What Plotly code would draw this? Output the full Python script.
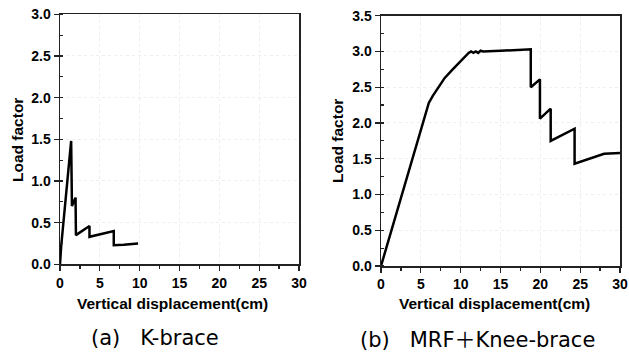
import plotly.graph_objects as go

# K-brace data
k_disp = [0, 0.15, 1.4, 1.5, 1.95, 2.0, 3.7, 3.7, 6.75, 6.75, 8.0, 9.8]
k_load = [0, 0.22, 1.48, 0.70, 0.80, 0.35, 0.46, 0.33, 0.40, 0.23, 0.235, 0.25]

# MRF + Knee-brace data
m_disp = [0, 6.0, 6.5, 7.0, 8.0, 9.0, 10.0, 11.0, 11.3, 11.6, 11.9, 12.2, 12.5, 12.8,
          15.0, 18.8, 18.8, 19.95, 19.95, 21.3, 21.3, 24.3, 24.3, 28.0, 30.0]
m_load = [0, 2.28, 2.38, 2.47, 2.63, 2.75, 2.87, 2.98, 3.0, 2.98, 3.0, 2.98, 3.01, 3.0,
          3.01, 3.03, 2.50, 2.61, 2.06, 2.20, 1.75, 1.92, 1.43, 1.57, 1.58]

x_ticks = [0, 5, 10, 15, 20, 25, 30]
y_ticks_a = [0.0, 0.5, 1.0, 1.5, 2.0, 2.5, 3.0]
y_ticks_b = [0.0, 0.5, 1.0, 1.5, 2.0, 2.5, 3.0, 3.5]

W, H = 629, 356
fig = go.Figure()
fig.add_trace(go.Scatter(x=k_disp, y=k_load, mode="lines",
                         line=dict(color="black", width=2.5), xaxis="x", yaxis="y",
                         showlegend=False, hoverinfo="skip"))
fig.add_trace(go.Scatter(x=m_disp, y=m_load, mode="lines",
                         line=dict(color="black", width=2.5), xaxis="x2", yaxis="y2",
                         showlegend=False, hoverinfo="skip"))

tickfont = dict(family="Liberation Sans, Arial, sans-serif", size=14, color="black")
common_x = dict(range=[0, 30], tickvals=x_ticks, ticktext=[f"<b>{v}</b>" for v in x_ticks],
                ticks="outside", ticklen=5, tickwidth=1.2, tickcolor="#222",
                showline=True, linecolor="#222", linewidth=1.5, mirror=True,
                showgrid=True, gridcolor="#eeeeee", griddash="dot", gridwidth=1,
                zeroline=False, tickfont=tickfont, ticklabeloverflow="allow",
                automargin=False,
                minor=dict(dtick=2.5, tick0=0, ticks="outside", ticklen=3,
                           tickcolor="#222", showgrid=False))
common_y = dict(ticks="outside", ticklen=5, tickwidth=1.2, tickcolor="#222",
                showline=True, linecolor="#222", linewidth=1.5, mirror=True,
                showgrid=True, gridcolor="#eeeeee", griddash="dot", gridwidth=1,
                zeroline=False, tickfont=tickfont, automargin=False,
                minor=dict(dtick=0.25, tick0=0, ticks="inside", ticklen=3,
                           tickcolor="#222", showgrid=False))

def fx(px):
    return px / W

def fy(py):
    return (H - py) / H

fig.update_layout(
    width=W, height=H,
    margin=dict(l=0, r=0, t=0, b=0, pad=0),
    paper_bgcolor="white", plot_bgcolor="white",
    xaxis=dict(domain=[fx(60), fx(299)], anchor="y", **common_x),
    yaxis=dict(domain=[fy(264.3), fy(14.3)], anchor="x", range=[0, 3.0],
               tickvals=y_ticks_a, ticktext=[f"<b>{v:.1f}</b>" for v in y_ticks_a], **common_y),
    xaxis2=dict(domain=[fx(381), fx(620)], anchor="y2", **common_x),
    yaxis2=dict(domain=[fy(266), fy(15.7)], anchor="x2", range=[0, 3.5],
                tickvals=y_ticks_b, ticktext=[f"<b>{v:.1f}</b>" for v in y_ticks_b], **common_y),
)

title_font = dict(family="Liberation Sans, Arial, sans-serif", size=15.5, color="black")
ytitle_font = dict(family="Liberation Sans, Arial, sans-serif", size=15.5, color="black")
cap_font = dict(family="DejaVu Sans, sans-serif", size=21, color="black")
nb = "\u00a0"
ann = []
ann.append(dict(text="<b>Vertical displacement(cm)</b>", x=fx(172), y=fy(303),
                xref="paper", yref="paper", showarrow=False, font=title_font,
                xanchor="center", yanchor="middle"))
ann.append(dict(text="<b>Vertical displacement(cm)</b>", x=fx(494), y=fy(303),
                xref="paper", yref="paper", showarrow=False, font=title_font,
                xanchor="center", yanchor="middle"))
ann.append(dict(text="<b>Load factor</b>", x=fx(17), y=fy(140), textangle=-90,
                xref="paper", yref="paper", showarrow=False, font=ytitle_font,
                xanchor="center", yanchor="middle"))
ann.append(dict(text="<b>Load factor</b>", x=fx(337), y=fy(141), textangle=-90,
                xref="paper", yref="paper", showarrow=False, font=ytitle_font,
                xanchor="center", yanchor="middle"))
ann.append(dict(text=f"(a){nb}{nb} K-brace", x=fx(155), y=fy(338),
                xref="paper", yref="paper", showarrow=False, font=cap_font,
                xanchor="center", yanchor="middle"))
ann.append(dict(text=f"(b){nb}{nb} MRF<span style='font-family:Noto Sans CJK KR'>＋</span>Knee-brace",
                x=fx(477), y=fy(338),
                xref="paper", yref="paper", showarrow=False, font=cap_font,
                xanchor="center", yanchor="middle"))
fig.update_layout(annotations=ann)

fig.write_html("out.html", config={"displayModeBar": False, "staticPlot": True},
               post_script="document.body.style.margin='0';document.body.style.overflow='hidden';")
